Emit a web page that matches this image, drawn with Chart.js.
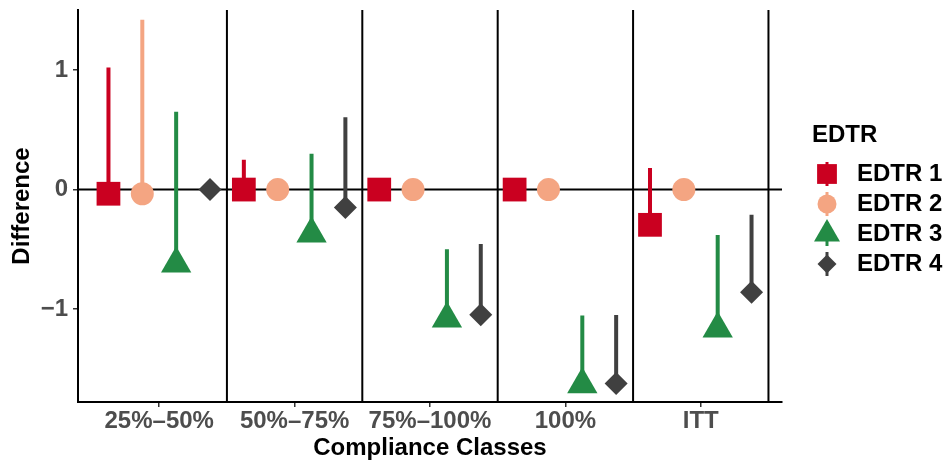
<!DOCTYPE html>
<html>
<head>
<meta charset="utf-8">
<script src="https://cdn.jsdelivr.net/npm/chart.js@4/dist/chart.umd.min.js"></script>
<style>
  html, body { margin: 0; padding: 0; background: #fff; }
  #wrap { width: 945px; height: 462px; position: relative; }
</style>
</head>
<body>
<div id="wrap"><canvas id="chart"></canvas></div>
<script>
// compliance classes on the x axis (positions 1..5)
const categories = ["25%\u201350%", "50%\u201375%", "75%\u2013100%", "100%", "ITT"];
const seriesNames = ["EDTR 1", "EDTR 2", "EDTR 3", "EDTR 4"];

// point estimate and upper end of the interval, per class
const edtr1Est   = [-0.035, 0.00, 0.00, 0.00, -0.295];
const edtr1Upper = [ 1.02,  0.25, 0.00, 0.00,  0.18];
const edtr2Est   = [-0.035, 0.00, 0.00, 0.00,  0.00];
const edtr2Upper = [ 1.42,  0.00, 0.00, 0.00,  0.00];
const edtr3Est   = [-0.62, -0.37, -1.08, -1.63, -1.165];
const edtr3Upper = [ 0.65,  0.30, -0.50, -1.053, -0.38];
const edtr4Est   = [ 0.00, -0.15, -1.047, -1.623, -0.86];
const edtr4Upper = [ 0.00,  0.605, -0.456, -1.05, -0.21];

const yTicks = [-1, 0, 1];
const separators = [1.5, 2.5, 3.5, 4.5, 5.5];
const dodge = [-0.375, -0.125, 0.125, 0.375];

const COLORS = ["#CA0020", "#F4A582", "#238B45", "#404040"];
const STYLES = ["rect", "circle", "triangle", "rectRot"];
const RADII = [16.8, 11.5, 17.5, 11.5];
const KEY_RADII = [14, 9.5, 15, 9.5];

const estimates = [edtr1Est, edtr2Est, edtr3Est, edtr4Est];
const uppers = [edtr1Upper, edtr2Upper, edtr3Upper, edtr4Upper];

Chart.defaults.font.family = "'Liberation Sans', Arial, Helvetica, sans-serif";
Chart.defaults.font.weight = "bold";

function errorData(s) {
    const out = [];
    categories.forEach((c, i) => {
        const x = i + 1 + dodge[s];
        out.push({ x, y: estimates[s][i] }, { x, y: uppers[s][i] }, { x, y: null });
    });
    return out;
}

function pointData(s) {
    return categories.map((c, i) => ({ x: i + 1 + dodge[s], y: estimates[s][i] }));
}

const datasets = [];
seriesNames.forEach((name, s) => {
    datasets.push({
        label: name,
        data: pointData(s),
        pointStyle: STYLES[s],
        pointRadius: RADII[s],
        pointHoverRadius: RADII[s],
        backgroundColor: COLORS[s],
        borderWidth: 0,
        order: 0,
    });
});
seriesNames.forEach((name, s) => {
    datasets.push({
        label: name + " interval",
        data: errorData(s),
        showLine: true,
        spanGaps: false,
        borderColor: COLORS[s],
        borderWidth: 4,
        borderCapStyle: "butt",
        pointRadius: 0,
        pointHoverRadius: 0,
        order: 1,
    });
});

// zero line and class separators (geom_hline / geom_vline)
const refLines = {
    id: "refLines",
    beforeDatasetsDraw(chart) {
        const { ctx, chartArea: a, scales: { x, y } } = chart;
        ctx.save();
        ctx.strokeStyle = "#000";
        ctx.lineWidth = 2;
        const y0 = y.getPixelForValue(0);
        ctx.beginPath();
        ctx.moveTo(a.left, y0);
        ctx.lineTo(a.right, y0);
        for (const v of separators) {
            const px = x.getPixelForValue(v);
            ctx.moveTo(px, a.top);
            ctx.lineTo(px, a.bottom);
        }
        ctx.stroke();
        ctx.restore();
    },
};

// ggplot-like legend: title plus marker with a vertical bar through it
const sideLegend = {
    id: "sideLegend",
    afterDraw(chart) {
        const { ctx } = chart;
        const kx = 827, tx = 857;
        ctx.save();
        ctx.fillStyle = "#000";
        ctx.font = "bold 24px 'Liberation Sans', Arial, sans-serif";
        ctx.textBaseline = "middle";
        ctx.textAlign = "left";
        ctx.fillText("EDTR", 812, 135);
        seriesNames.forEach((name, s) => {
            const cy = 174 + s * 30;
            ctx.strokeStyle = COLORS[s];
            ctx.lineWidth = 3;
            ctx.beginPath();
            ctx.moveTo(kx, cy - 12);
            ctx.lineTo(kx, cy + 12);
            ctx.stroke();
            ctx.fillStyle = COLORS[s];
            Chart.helpers.drawPoint(ctx, {
                pointStyle: STYLES[s], radius: KEY_RADII[s], rotation: 0, borderWidth: 0,
            }, kx, cy);
            ctx.fillStyle = "#000";
            ctx.fillText(name, tx, cy);
        });
        ctx.restore();
    },
};

new Chart(document.getElementById("chart"), {
    type: "scatter",
    data: { datasets },
    plugins: [refLines, sideLegend],
    options: {
        responsive: true,
        maintainAspectRatio: false,
        animation: false,
        events: [],
        layout: { autoPadding: false, padding: { top: 10, right: 163, bottom: 0, left: 0 } },
        plugins: { legend: { display: false }, tooltip: { enabled: false } },
        scales: {
            x: {
                type: "linear",
                min: 0.4,
                max: 5.6,
                afterBuildTicks: (s) => { s.ticks = categories.map((c, i) => ({ value: i + 1 })); },
                afterFit: (s) => { s.height = 60; s.paddingLeft = 0; s.paddingRight = 0; },
                ticks: {
                    callback: (v) => categories[v - 1],
                    color: "#4D4D4D",
                    font: { size: 24, weight: "bold" },
                    padding: 0,
                    maxRotation: 0,
                    autoSkip: false,
                },
                grid: { drawOnChartArea: false, drawTicks: true, tickLength: 5, color: "#333", lineWidth: 1.5 },
                border: { display: true, color: "#000", width: 2 },
                title: {
                    display: true,
                    text: "Compliance Classes",
                    color: "#000",
                    font: { size: 24, weight: "bold" },
                    padding: { top: 0, bottom: -1 },
                },
            },
            y: {
                type: "linear",
                min: -1.777,
                max: 1.502,
                afterBuildTicks: (s) => { s.ticks = yTicks.map((v) => ({ value: v })); },
                afterFit: (s) => { s.width = 78; s.paddingTop = 0; s.paddingBottom = 0; },
                ticks: {
                    callback: (v) => (v < 0 ? "\u2212" + Math.abs(v) : String(v)),
                    color: "#4D4D4D",
                    font: { size: 24, weight: "bold" },
                    padding: 5,
                },
                grid: { drawOnChartArea: false, drawTicks: true, tickLength: 5, color: "#333", lineWidth: 1.5 },
                border: { display: true, color: "#000", width: 2 },
                title: {
                    display: true,
                    text: "Difference",
                    color: "#000",
                    font: { size: 24, weight: "bold" },
                    padding: { top: 8, bottom: 0 },
                },
            },
        },
    },
});
</script>
</body>
</html>
